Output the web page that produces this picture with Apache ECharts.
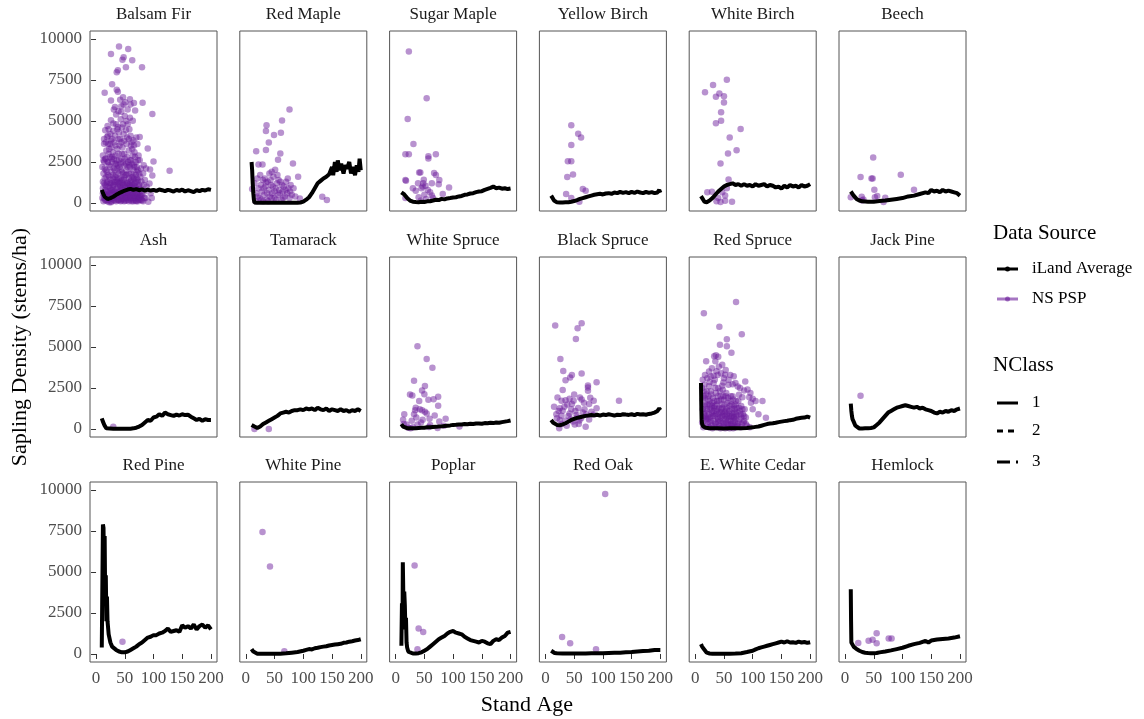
<!DOCTYPE html>
<html><head><meta charset="utf-8">
<script src="https://cdn.jsdelivr.net/npm/echarts@6/dist/echarts.min.js"></script>
<style>html,body{margin:0;padding:0;background:#fff}#c{width:1144px;height:719px}</style>
</head><body><div id="c"></div>
<script>
// ---------- DATA ----------
const speciesNames = ['Balsam Fir','Red Maple','Sugar Maple','Yellow Birch','White Birch','Beech',
  'Ash','Tamarack','White Spruce','Black Spruce','Red Spruce','Jack Pine',
  'Red Pine','White Pine','Poplar','Red Oak','E. White Cedar','Hemlock'];
const xTicks = [0,50,100,150,200];
const yTicks = [0,2500,5000,7500,10000];

// iLand Average (age, stems/ha)
const balsamFirLine = [[10,800],[12,600],[15,380],[18,260],[20,240],[25,300],[30,380],[35,500],[40,600],[45,680],[50,760],[55,820],[60,860],[65,800],[70,850],[75,780],[80,830],[85,760],[90,820],[95,760],[100,800],[105,740],[110,820],[115,780],[120,720],[125,800],[130,760],[135,700],[140,800],[145,740],[150,820],[155,700],[160,780],[165,720],[170,660],[175,780],[180,720],[185,800],[190,760],[195,840],[200,800]];
const redMapleLine = [[10,2500],[11,2000],[12,1200],[13,600],[14,200],[15,30],[20,10],[30,10],[40,10],[50,10],[60,10],[70,10],[80,20],[90,20],[95,30],[100,80],[105,200],[110,350],[115,600],[120,900],[125,1200],[130,1350],[135,1500],[140,1600],[145,1750],[150,2200],[152,1700],[155,2500],[158,1900],[160,2600],[163,2000],[166,2400],[170,1800],[173,2300],[176,2100],[180,2500],[183,1800],[186,2200],[190,1700],[193,2300],[196,1900],[198,2700],[200,2000]];
const sugarMapleLine = [[10,650],[15,520],[20,300],[25,150],[30,80],[35,60],[40,50],[45,70],[50,60],[55,100],[60,110],[65,150],[70,200],[75,180],[80,250],[85,220],[90,280],[95,300],[100,330],[105,350],[110,400],[115,430],[120,500],[125,520],[130,580],[135,600],[140,660],[145,700],[150,720],[155,800],[160,860],[165,920],[170,1000],[175,900],[180,940],[185,870],[190,900],[195,850],[200,880]];
const yellowBirchLine = [[10,450],[12,350],[15,150],[20,40],[25,30],[30,30],[35,40],[40,50],[45,80],[50,120],[55,180],[60,250],[65,300],[70,350],[75,400],[80,450],[85,500],[90,530],[95,560],[100,520],[105,580],[110,600],[115,560],[120,640],[125,600],[130,680],[135,620],[140,660],[145,600],[150,680],[155,620],[160,700],[165,640],[170,600],[175,680],[180,620],[185,660],[190,600],[195,640],[198,800],[200,620]];
const whiteBirchLine = [[10,420],[13,250],[16,80],[20,50],[25,150],[30,300],[35,500],[40,700],[45,850],[50,1000],[55,1100],[60,1150],[65,1200],[70,1100],[75,1150],[80,1050],[85,1150],[90,1050],[95,1100],[100,1000],[105,1150],[110,1050],[115,1100],[120,1150],[125,1000],[130,1100],[135,1050],[140,950],[145,1000],[150,880],[155,1050],[160,950],[165,1100],[170,1000],[175,1050],[180,950],[185,1100],[190,1000],[195,1050],[200,1150]];
const beechLine = [[10,700],[12,800],[15,450],[20,250],[25,150],[30,100],[40,80],[50,80],[60,120],[70,150],[80,200],[90,250],[100,300],[110,400],[120,450],[130,550],[140,650],[145,600],[150,800],[155,700],[160,750],[165,650],[170,800],[175,700],[180,750],[185,700],[190,650],[195,600],[200,450]];
const ashLine = [[10,650],[12,450],[15,200],[18,40],[20,20],[30,10],[40,10],[50,10],[60,20],[65,40],[70,80],[75,150],[80,250],[85,400],[90,550],[95,500],[100,700],[105,750],[110,900],[115,800],[120,1000],[125,900],[130,850],[135,800],[140,880],[145,820],[150,900],[155,850],[160,870],[165,750],[170,650],[175,550],[180,620],[185,500],[190,600],[195,550],[200,550]];
const tamarackLine = [[10,250],[15,150],[20,60],[25,150],[30,300],[35,400],[40,500],[45,600],[50,700],[55,800],[60,950],[65,1000],[70,1050],[75,1000],[80,1100],[85,1150],[90,1150],[95,1200],[100,1150],[105,1250],[110,1200],[115,1250],[120,1150],[125,1300],[130,1200],[135,1150],[140,1250],[145,1100],[150,1200],[155,1150],[160,1100],[165,1200],[170,1100],[175,1150],[180,1050],[185,1150],[190,1100],[195,1200],[200,1100]];
const whiteSpruceLine = [[10,300],[13,150],[16,80],[20,50],[25,40],[30,40],[35,50],[40,60],[45,70],[50,80],[55,100],[60,100],[65,120],[70,130],[75,150],[80,160],[85,180],[90,200],[95,220],[100,250],[105,260],[110,280],[115,270],[120,300],[125,290],[130,320],[135,300],[140,330],[145,340],[150,320],[155,360],[160,350],[165,380],[170,360],[175,400],[180,380],[185,420],[190,450],[195,480],[200,520]];
const blackSpruceLine = [[10,550],[13,400],[16,300],[20,250],[25,230],[30,280],[35,350],[40,450],[45,550],[50,620],[55,680],[60,720],[65,760],[70,800],[75,820],[80,850],[85,830],[90,870],[95,820],[100,880],[105,850],[110,900],[115,860],[120,820],[125,870],[130,850],[135,900],[140,880],[145,860],[150,900],[155,850],[160,920],[165,880],[170,900],[175,870],[180,920],[185,950],[190,1000],[195,1100],[198,1250],[200,1150]];
const redSpruceLine = [[10,2800],[10.5,1500],[11,600],[12,300],[14,150],[18,80],[25,50],[30,40],[40,40],[50,30],[60,40],[70,40],[80,50],[90,60],[100,100],[105,130],[110,150],[115,200],[120,250],[125,300],[130,330],[135,350],[140,380],[145,420],[150,450],[155,480],[160,500],[165,540],[170,560],[175,620],[180,650],[185,680],[190,700],[195,760],[200,700]];
const jackPineLine = [[10,1550],[11,1100],[12,800],[13,600],[15,450],[18,200],[20,80],[25,30],[30,30],[35,40],[40,40],[45,60],[50,100],[55,250],[60,400],[65,600],[70,800],[75,1000],[80,1100],[85,1200],[90,1300],[95,1350],[100,1400],[105,1450],[110,1400],[115,1350],[120,1300],[125,1350],[130,1250],[135,1300],[140,1200],[145,1150],[150,1100],[155,1000],[160,950],[165,1050],[170,1000],[175,1100],[180,1050],[185,1150],[190,1100],[195,1200],[200,1250]];
const redPineLine = [[10,400],[11,350],[12,7900],[13,7700],[14,5000],[15,7200],[16,3000],[17,4800],[18,2000],[19,3500],[20,2000],[22,1200],[25,700],[28,450],[30,350],[35,250],[40,150],[45,100],[50,100],[55,150],[60,250],[65,350],[70,450],[75,600],[80,700],[85,850],[90,1000],[95,1050],[100,1150],[105,1150],[110,1250],[115,1300],[120,1400],[125,1550],[130,1350],[135,1400],[140,1450],[145,1350],[150,1750],[155,1600],[160,1700],[165,1550],[170,1800],[175,1500],[180,1700],[185,1800],[190,1600],[195,1750],[200,1500]];
const whitePineLine = [[10,300],[13,150],[16,50],[20,20],[30,10],[40,10],[50,10],[60,20],[70,40],[80,80],[90,120],[100,200],[105,250],[110,300],[115,280],[120,350],[125,380],[130,420],[135,450],[140,470],[145,520],[150,550],[155,580],[160,600],[165,620],[170,680],[175,700],[180,750],[185,780],[190,820],[195,850],[200,900]];
const poplarLine = [[10,500],[11,3100],[12,1500],[12.5,5600],[13,4500],[14,2000],[15,3800],[16,3000],[17,1500],[18,2200],[19,700],[20,400],[22,150],[25,50],[30,30],[35,30],[40,50],[45,100],[50,200],[55,300],[60,450],[65,600],[70,750],[75,900],[80,1000],[85,1100],[90,1250],[95,1350],[100,1400],[105,1300],[110,1250],[115,1200],[120,1050],[125,950],[130,850],[135,800],[140,750],[145,700],[150,800],[155,750],[160,650],[165,600],[170,800],[175,900],[180,850],[185,1000],[190,1100],[195,1300],[200,1350]];
const redOakLine = [[10,200],[13,120],[16,60],[20,40],[30,30],[40,30],[50,30],[60,30],[70,30],[80,40],[90,40],[100,50],[110,60],[120,70],[130,80],[140,100],[150,120],[160,150],[170,180],[180,200],[190,250],[200,250]];
const whiteCedarLine = [[10,600],[12,450],[15,300],[18,200],[20,80],[25,30],[30,20],[40,20],[50,20],[60,20],[70,30],[80,50],[90,120],[100,200],[105,280],[110,350],[115,400],[120,450],[125,500],[130,550],[135,600],[140,650],[145,700],[150,750],[155,700],[160,780],[165,700],[170,720],[175,680],[180,750],[185,700],[190,730],[195,680],[200,720]];
const hemlockLine = [[10,3950],[10.5,2000],[11,700],[12,600],[15,450],[20,300],[25,200],[30,120],[35,80],[40,60],[45,50],[50,50],[55,60],[60,100],[70,150],[80,220],[90,300],[100,380],[110,500],[120,600],[130,680],[140,800],[145,700],[150,820],[160,880],[170,920],[180,950],[190,1000],[200,1080]];

// NS PSP plots (age, stems/ha)
const balsamFirPts = [[40,9550],[26,9085],[56,9390],[46,8740],[63,8710],[48,8880],[52,8275],[36,7970],[38,8100],[80,8275],[28,7243],[15,6717],[36,6900],[38,6790],[26,6250],[47,6455],[51,6150],[59,6330],[68,5645],[66,6100],[81,6110],[98,5420],[33,5847],[44,5565],[64,5020],[59,5200],[26,5040],[30,4840],[16,4430],[19,4025],[38,4640],[52,4430],[76,4025],[65,3825],[14,3620],[90,3318],[28,2813],[14,2510],[100,2530],[94,2043],[128,1963],[98,1680],[93,1194],[91,80],[78,425],
[20,4700],[22,4500],[25,4200],[30,4400],[33,4100],[35,4800],[40,4300],[42,3900],[45,4600],[48,4200],[55,4800],[58,4500],[60,4100],[62,3700],[70,4000],[72,3600],[43,5100],[50,5300],[55,5700],[35,5400],[31,5700],[60,6000],[42,6300],[27,3400],[32,3700],[37,3300],[41,3500],[46,3400],[53,3600],[57,3200],[63,3300],[67,3100],[74,2900],[18,3200],[22,3000],[12,2900],[16,2700],[20,2500],[24,2800],[29,3100],[34,2900],[39,3000],[44,2700],[49,3000],[54,2800],[59,2600],[64,2900],[69,2500],[76,2600],[83,2300],[87,2100],
[11,2200],[13,1800],[15,1500],[17,2000],[19,1200],[21,1700],[23,2300],[25,1400],[27,1900],[29,1000],[31,2100],[33,1600],[35,2400],[37,1300],[39,1800],[41,2200],[43,1500],[45,1900],[47,1100],[49,2300],[51,1700],[53,2000],[55,1300],[57,1800],[59,2200],[61,1400],[63,1600],[65,2000],[67,1200],[69,1700],[71,1500],[73,2000],[75,1100],[77,1600],[79,1300],[82,1800],[85,1400],[88,1000],
[12,900],[14,600],[16,1100],[18,700],[20,400],[22,1000],[24,600],[26,800],[28,300],[30,700],[32,1100],[34,500],[36,900],[38,200],[40,700],[42,1000],[44,400],[46,800],[48,500],[50,1000],[52,300],[54,700],[56,900],[58,400],[60,600],[62,1000],[64,300],[66,700],[68,500],[70,900],[72,300],[74,600],[76,200],[80,500],[84,700],[86,300],[95,600],[97,300],
[11,300],[13,100],[15,400],[17,150],[19,500],[21,200],[23,50],[25,300],[27,100],[29,500],[31,200],[33,350],[35,100],[37,550],[39,150],[41,400],[43,100],[45,250],[47,600],[49,100],[51,350],[53,150],[55,450],[57,100],[59,300],[61,200],[63,500],[65,100],[67,300],[69,150],[71,400],[73,100],[75,300],[77,500],[79,200],[82,100],
[14,3900],[17,3700],[21,3600],[23,3300],[26,3800],[28,2500],[31,2700],[33,2400],[36,2600],[38,2300],[40,2600],[43,2400],[45,3000],[47,2500],[50,2700],[52,2400],[56,2500],[58,2300],[61,2600],[63,2400],[66,2300],[68,2800],[71,2200],[73,2600],[78,2100],
[12,1300],[18,1600],[24,1200],[30,1500],[36,1400],[42,1300],[48,1400],[54,1200],[60,1300],[66,1500],[72,1300],[78,900],[83,1100],
[13,2600],[15,2100],[17,2700],[19,1900],[21,2500],[23,1600],[25,2200],[27,2700],[29,1700],[31,1300],[33,2000],[35,1700],[37,2100],[39,1500],[41,1100],[43,2000],[45,1400],[47,1800],[49,1600],[51,1200],[53,1700],[55,2200],[57,1500],[59,1000],[61,1800],[63,1200],[65,1600],[67,2200],[69,1300],[71,1900],[73,1400],[75,1800],
[12,600],[14,1200],[16,800],[18,1000],[20,1300],[22,700],[24,900],[26,1200],[28,800],[30,1100],[32,700],[34,1300],[36,600],[38,1000],[40,1200],[42,700],[44,900],[46,1200],[48,800],[50,600],[52,1100],[54,900],[56,700],[58,1100],[60,900],[62,700],[64,1100],[66,900],[68,1000],[70,600],[72,800],[74,1000],
[14,300],[16,200],[18,400],[20,100],[22,500],[24,250],[26,50],[28,600],[30,300],[32,150],[34,700],[36,400],[38,500],[40,200],[42,550],[44,150],[46,450],[48,250],[50,150],[52,600],[54,300],[56,200],[58,600],[60,350],[62,100],[64,600],[66,200],[68,350],[70,100],[72,550],[74,200],[76,400],[80,150],[84,300],
[24,3600],[28,3900],[34,3500],[39,3900],[44,3700],[49,3800],[54,4000],[57,3900],[61,3500],[66,3500],[21,4100],[37,4500],[47,4800],[53,5000],[44,5900],[39,5600],[48,6000]];
const redMaplePts = [[76,5706],[63,5038],[36,4735],[35,4390],[61,4290],[49,4150],[40,3685],[18,3156],[35,3236],[60,3015],[56,2630],[82,2410],[22,2350],[29,2350],[51,2023],[91,1600],[11,850],[133,385],[141,180],[94,280],
[15,1200],[18,600],[20,1500],[22,900],[24,300],[26,1100],[28,700],[30,1400],[32,500],[34,1000],[36,200],[38,1300],[40,800],[42,400],[44,1100],[46,600],[48,1600],[50,300],[52,900],[54,1200],[56,500],[58,800],[60,1300],[62,200],[64,700],[66,1000],[68,400],[70,1300],[72,600],[74,900],[76,300],[78,1100],[80,500],[17,100],[21,400],[25,1700],[27,200],[31,900],[33,1500],[37,600],[39,100],[43,1400],[45,300],[47,1000],[53,200],[57,1400],[59,600],[63,1100],[65,300],[69,800],[73,1500],[77,700],[83,900],[86,400],[30,100],[50,700],[55,1700],[41,1800],[35,1250],[45,1900]];
const sugarMaplePts = [[23,9245],[54,6390],[21,5117],[31,3600],[17,2975],[23,2975],[57,2850],[57,2720],[70,2975],[41,1860],[43,1860],[67,1830],[70,1700],[17,1400],[18,1350],[49,1420],[48,1200],[76,1400],[39,1200],[63,1200],[75,1150],[35,750],[56,800],[50,500],[63,450],[82,550],[17,300],[93,950],[53,250],[45,900],[60,650],[40,350],[30,900],[47,1000],[52,1050],[65,300],[44,150]];
const yellowBirchPts = [[45,4735],[57,4230],[62,3990],[45,3540],[39,2550],[45,2550],[38,1580],[48,1740],[65,850],[70,750],[36,550],[45,300],[59,80]];
const whiteBirchPts = [[55,7510],[31,7200],[17,6760],[42,6680],[36,6480],[50,6510],[50,6130],[45,5540],[36,4870],[45,5020],[79,4510],[60,4000],[72,3220],[57,3015],[44,2410],[58,1440],[21,650],[29,690],[37,100],[44,60],[52,130],[64,70],[47,650],[52,450],[40,300],[55,900]];
const beechPts = [[49,2770],[27,1580],[46,1500],[48,1500],[97,1720],[51,810],[120,810],[10,350],[29,380],[32,220],[52,350],[56,420],[70,320],[67,60],[30,150]];
const ashPts = [[30,140]];
const tamarackPts = [[15,0],[40,0]];
const whiteSprucePts = [[38,5040],[54,4270],[64,3740],[32,2935],[51,2620],[46,2350],[50,2125],[25,2100],[29,2040],[74,1960],[57,1780],[66,1820],[41,1700],[74,1415],[34,1150],[46,1150],[51,1050],[32,900],[54,950],[59,625],[68,830],[87,625],[15,900],[13,570],[19,270],[47,570],[38,270],[76,450],[111,150],[22,80],[30,100],[58,120],[73,60],[44,400],[28,500],[36,700],[26,40],[60,250],[14,300],[84,200],[42,1200],[35,1300]];
const blackSprucePts = [[17,6310],[63,6455],[56,6150],[53,5485],[26,4270],[31,3540],[46,3300],[43,3140],[35,2980],[63,3380],[89,2850],[74,2650],[74,2530],[74,2330],[30,2380],[128,1720],[21,1920],[28,1720],[35,1760],[60,1920],[63,1800],[76,1520],[84,1720],[49,1720],[46,1520],[89,1260],[15,1360],[25,1260],[30,1110],[45,1210],[57,1280],[68,1210],[19,900],[28,810],[42,950],[54,850],[71,900],[84,880],[25,550],[35,500],[44,600],[59,520],[76,580],[28,300],[37,200],[51,270],[70,140],[24,40],[38,1500],[52,1100],[65,1000],[40,800],[62,650],[20,650],[33,1350],[48,450],[58,300],[80,1050],[50,2100],[42,1850],[67,1600],[78,1900],[23,1100],[55,700]];
const redSprucePts = [[71,7750],[15,7060],[42,6230],[81,5770],[55,5480],[43,5140],[55,5040],[63,4650],[36,4500],[40,4400],[33,4430],[19,4130],[35,4130],[47,3920],[37,3520],[52,3310],[67,3210],[32,3240],[25,2870],[49,2830],[47,2630],[65,2730],[85,2350],[91,2410],[94,1940],[100,1840],[117,1700],[123,680],[74,2590],[76,2090],[82,1940],[97,1600],
[12,2500],[14,2000],[16,2700],[18,1500],[20,2300],[22,1800],[24,2600],[26,1200],[28,2100],[30,1600],[32,2800],[34,1400],[36,2200],[38,1700],[40,2500],[42,1300],[44,2000],[46,1500],[48,2400],[50,1800],[52,1100],[54,2200],[56,1600],[58,2700],[60,1400],[62,2000],[64,1200],[66,1800],[68,1000],[70,1500],[72,1300],[75,1700],[78,1100],[80,1400],[83,900],[86,1200],[88,700],
[13,1200],[15,900],[17,1400],[19,600],[21,1100],[23,700],[25,1500],[27,500],[29,1000],[31,800],[33,1300],[35,400],[37,1100],[39,700],[41,900],[43,500],[45,1200],[47,800],[49,400],[51,1000],[53,600],[55,900],[57,300],[59,800],[61,500],[63,1000],[65,300],[67,700],[69,400],[71,900],[73,200],[77,600],[81,300],[85,500],[90,200],
[12,400],[14,100],[16,500],[18,200],[20,700],[22,300],[24,100],[26,400],[28,200],[30,50],[32,500],[34,150],[36,300],[38,100],[40,450],[42,200],[44,50],[46,350],[48,150],[50,250],[52,50],[54,400],[56,100],[58,250],[60,50],[62,300],[64,150],[66,50],[68,200],[70,100],[74,300],[79,100],[95,100],
[13,3000],[17,3300],[21,3100],[24,3500],[27,3200],[29,3700],[34,3000],[39,3300],[41,3800],[45,3400],[50,3100],[53,3600],[58,3000],[61,3300],[70,2800],[78,2500],[87,2900],[96,2200],[105,1700],[110,900],[100,1200],
[13,1800],[15,2300],[17,1900],[19,2100],[21,1500],[23,2000],[25,1700],[27,2300],[29,1400],[31,1900],[33,1700],[35,2500],[37,1500],[39,2000],[41,1700],[43,2300],[45,1800],[47,1300],[49,2000],[51,1500],[53,2000],[55,1300],[57,1900],[59,1100],[61,1700],[63,1500],[65,2000],[67,1400],[69,1200],[71,1700],[73,1000],[76,1300],[79,900],[82,1200],[85,800],
[14,700],[16,1000],[18,800],[20,1200],[22,600],[24,900],[26,700],[28,1300],[30,900],[32,1100],[34,800],[36,900],[38,1200],[40,600],[42,1000],[44,700],[46,1000],[48,900],[50,600],[52,800],[54,1200],[56,700],[58,500],[60,900],[62,700],[64,800],[66,500],[68,700],[70,600],[72,800],[75,400],[80,700],[84,400],[88,300]];
const jackPinePts = [[27,2025]];
const redPinePts = [[46,750]];
const whitePinePts = [[29,7440],[42,5330],[67,160]];
const poplarPts = [[33,5390],[40,1560],[48,1340],[38,285]];
const redOakPts = [[104,9750],[29,1035],[43,650],[88,285]];
const whiteCedarPts = [];
const hemlockPts = [[23,670],[41,810],[48,870],[55,1260],[55,650],[76,950],[81,950]];

const lineSets = [balsamFirLine,redMapleLine,sugarMapleLine,yellowBirchLine,whiteBirchLine,beechLine,
  ashLine,tamarackLine,whiteSpruceLine,blackSpruceLine,redSpruceLine,jackPineLine,
  redPineLine,whitePineLine,poplarLine,redOakLine,whiteCedarLine,hemlockLine];
const pointSets = [balsamFirPts,redMaplePts,sugarMaplePts,yellowBirchPts,whiteBirchPts,beechPts,
  ashPts,tamarackPts,whiteSprucePts,blackSprucePts,redSprucePts,jackPinePts,
  redPinePts,whitePinePts,poplarPts,redOakPts,whiteCedarPts,hemlockPts];

// ---------- LAYOUT ----------
const FONT = '"Liberation Serif","Times New Roman",serif';
const PURPLE = 'rgba(106,27,154,0.6)';
const rowTops = [31, 257, 482];
const panelW = 127, panelH = 180;
const colLeft = c => 90 + 149.8 * c;

const grids = [], xAxes = [], yAxes = [], series = [], graphics = [];
speciesNames.forEach((name, k) => {
  const r = Math.floor(k / 6), c = k % 6;
  const left = colLeft(c), top = rowTops[r];
  grids.push({left: left, top: top, width: panelW, height: panelH, show: true,
    borderColor: '#555', borderWidth: 1, backgroundColor: 'transparent', containLabel: false});
  const bottom = r === 2, leftCol = c === 0;
  xAxes.push({gridIndex: k, type: 'value', min: -10.5, max: 210.5,
    axisLine: {show: false}, splitLine: {show: false},
    axisTick: {show: bottom, length: 5, lineStyle: {color: '#333'}, customValues: xTicks},
    axisLabel: {show: bottom, customValues: xTicks, formatter: v => String(v), color: '#4d4d4d', fontSize: 17, fontFamily: FONT, margin: 8}});
  yAxes.push({gridIndex: k, type: 'value', min: -488, max: 10488,
    axisLine: {show: false}, splitLine: {show: false},
    axisTick: {show: leftCol, length: 5, lineStyle: {color: '#333'}, customValues: yTicks},
    axisLabel: {show: leftCol, customValues: yTicks, formatter: v => String(v), color: '#4d4d4d', fontSize: 17, fontFamily: FONT, margin: 8}});
  series.push({type: 'scatter', xAxisIndex: k, yAxisIndex: k, data: pointSets[k], symbolSize: 6.5,
    itemStyle: {color: PURPLE}, silent: true, z: 2});
  series.push({type: 'line', xAxisIndex: k, yAxisIndex: k, data: lineSets[k], showSymbol: false,
    lineStyle: {color: '#000', width: 4}, silent: true, z: 3});
  graphics.push({type: 'text', x: left + panelW / 2, y: top - 16,
    style: {text: name, fontSize: 17, fontFamily: FONT, fill: '#1a1a1a', textAlign: 'center', textVerticalAlign: 'middle'}});
});

// axis titles
graphics.push({type: 'text', x: 20, y: 347, rotation: Math.PI / 2,
  style: {text: 'Sapling Density (stems/ha)', fontSize: 22, fontFamily: FONT, fill: '#000', textAlign: 'center', textVerticalAlign: 'middle'}});
graphics.push({type: 'text', x: 527, y: 705,
  style: {text: 'Stand Age', fontSize: 22, fontFamily: FONT, fill: '#000', textAlign: 'center', textVerticalAlign: 'middle'}});

// legends
const lg = (txt, y, size) => graphics.push({type: 'text', x: 993, y: y,
  style: {text: txt, fontSize: size, fontFamily: FONT, fill: '#000', textAlign: 'left', textVerticalAlign: 'middle'}});
lg('Data Source', 233, 21);
lg('NClass', 365, 21);
const keyItem = (txt, y, color, dash, dot) => {
  graphics.push({type: 'line', shape: {x1: 997, y1: y, x2: 1018, y2: y},
    style: {stroke: color, lineWidth: 3, lineDash: dash || null}});
  if (dot) graphics.push({type: 'circle', shape: {cx: 1007.5, cy: y, r: 2.5}, style: {fill: color}});
  graphics.push({type: 'text', x: 1032, y: y,
    style: {text: txt, fontSize: 17, fontFamily: FONT, fill: '#000', textAlign: 'left', textVerticalAlign: 'middle'}});
};
keyItem('iLand Average', 269, '#000', null, true);
keyItem('NS PSP', 299, PURPLE, null, true);
keyItem('1', 403, '#000', null, false);
keyItem('2', 431, '#000', [6, 5], false);
keyItem('3', 462, '#000', [13, 6, 2, 6], false);

const chart = echarts.init(document.getElementById('c'), null, {renderer: 'canvas'});
chart.setOption({animation: false, grid: grids, xAxis: xAxes, yAxis: yAxes, series: series, graphic: graphics});
</script></body></html>
